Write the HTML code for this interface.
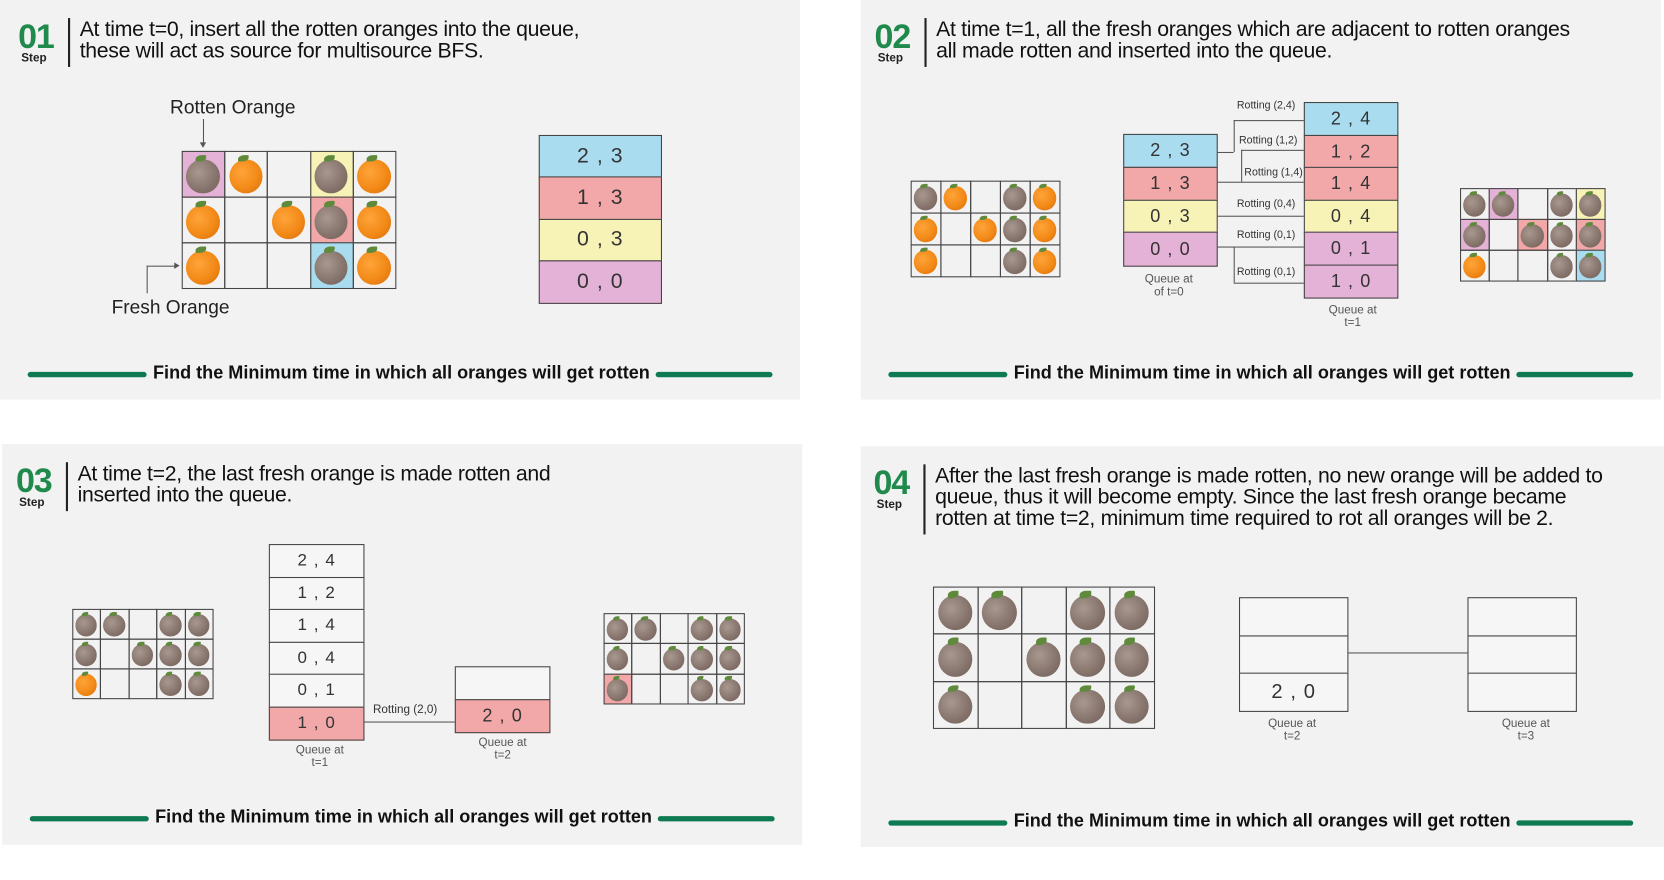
<!DOCTYPE html>
<html><head><meta charset="utf-8">
<style>
html,body{margin:0;padding:0;background:#fff;width:1664px;height:880px;overflow:hidden;font-family:"Liberation Sans",sans-serif;}
#s{position:absolute;left:0;top:0;width:1566px;height:828px;transform:scale(1.0626);transform-origin:0 0;}
.p{position:absolute;background:#f2f2f2;}
.a{position:absolute;}
.num{position:absolute;color:#1f8a4c;font-weight:bold;font-size:32px;line-height:32px;letter-spacing:-1px}
.stp{position:absolute;font-size:11px;font-weight:bold;color:#222}
.vl{position:absolute;width:1.5px;background:#222}
.hd{position:absolute;font-size:20px;line-height:20px;color:#111;white-space:nowrap;letter-spacing:-0.3px}
.gl{position:absolute;height:5px;border-radius:3px;background:#0e7a51}
.ft{position:absolute;font-size:17px;font-weight:bold;color:#111;white-space:nowrap}
.cell{position:absolute;box-sizing:border-box;border:1px solid #444;}
.q{position:absolute;box-sizing:border-box;border:1.5px solid #444;display:flex;align-items:center;justify-content:center;color:#333;letter-spacing:1px}
.lbl{position:absolute;font-size:11px;color:#555;text-align:center;line-height:12px;transform:translateX(-50%);white-space:nowrap}
.rl{position:absolute;font-size:10px;color:#333;white-space:nowrap}
.ln{position:absolute;background:#555}
</style></head><body>
<div id="s">
  <div class="p" style="left:0;top:0;width:753px;height:376px"></div>
  <div class="p" style="left:810px;top:0;width:753px;height:376px"></div>
  <div class="p" style="left:2px;top:418px;width:753px;height:377px"></div>
  <div class="p" style="left:810px;top:420px;width:756px;height:377px"></div>
</div>
<script>
const S=document.getElementById('s');
function mk(cls,css,text,name){
  const e=document.createElement('div');
  e.className=cls;
  e.style.cssText=css;
  if(text!==undefined&&text!==null)e.innerHTML=text;
  
  
  S.appendChild(e);
  return e;
}
const COL={b:'#a9dcef',r:'#f2a8a8',y:'#f7f3b6',p:'#e5b2d7',w:'#f6f6f6','':'transparent'};
function orange(x,y,w,h,kind){
  const body=kind==='f'?'radial-gradient(circle at 38% 38%,#ffa43a,#f28a17 55%,#d96a0a)':'radial-gradient(circle at 38% 38%,#a8988f,#85736b 60%,#6e5d56)';
  mk('a','left:'+x+'px;top:'+y+'px;width:'+w+'px;height:'+h+'px;border-radius:50%;background:'+body,null,kind==='f'?'fresh-orange':'rotten-orange');
  mk('a','left:'+(x+w*0.28)+'px;top:'+(y-h*0.12)+'px;width:'+(w*0.32)+'px;height:'+(h*0.2)+'px;border-radius:60% 10% 60% 10%;background:#5f8a3c',null,'orange-leaf');
}
function grid(name,x,y,cw,ch,states,bgs){
  for(let r=0;r<3;r++)for(let c=0;c<5;c++){
    const cx=x+c*cw,cy=y+r*ch;
    mk('cell','left:'+cx+'px;top:'+cy+'px;width:'+(cw+1)+'px;height:'+(ch+1)+'px;background:'+(COL[bgs[r][c]]||'#f7f7f7'),null,name+'-cell');
    const s=states[r][c];
    if(s){const ow=cw*0.78,oh=ch*0.74;orange(cx+(cw-ow)/2,cy+ch*0.18,ow,oh,s);}
  }
}
function queue(name,x,y,w,rh,items,fs){
  items.forEach((it,i)=>{
    mk('q','left:'+x+'px;top:'+(y+i*rh)+'px;width:'+w+'px;height:'+(rh+1.5)+'px;font-size:'+fs+'px;background:'+COL[it[1]],it[0],name+'-item');
  });
}
function header(ox,oy,n,lines){
  mk('num','left:'+ox+'px;top:'+oy+'px',n,'step-number');
  mk('stp','left:'+(ox+3)+'px;top:'+(oy+31)+'px','Step','step-label');
  mk('vl','left:'+(ox+47)+'px;top:'+(oy-1)+'px;height:'+(lines.length*20+6)+'px',null,'header-divider');
  mk('hd','left:'+(ox+58)+'px;top:'+(oy+0)+'px',lines.join('<br>'),'step-description');
}
function footer(ox,y){
  mk('gl','left:'+(ox+26)+'px;top:'+(y-2)+'px;width:112px',null,'footer-line-left');
  mk('ft','left:'+(ox+144)+'px;top:'+(y-11)+'px','Find the Minimum time in which all oranges will get rotten','footer-title');
  mk('gl','left:'+(ox+617)+'px;top:'+(y-2)+'px;width:110px',null,'footer-line-right');
}
function hl(x1,x2,y,n){mk('ln','left:'+x1+'px;top:'+y+'px;width:'+(x2-x1)+'px;height:1px',null,n||'connector');}
function vl(x,y1,y2,n){mk('ln','left:'+x+'px;top:'+y1+'px;width:1px;height:'+(y2-y1)+'px',null,n||'connector');}

// Step 1
header(17,18,'01',['At time t=0, insert all the rotten oranges into the queue,','these will act as source for multisource BFS.']);
grid('grid-t0',171,142,40.2,43,
 [['r','f','','r','f'],['f','','f','r','f'],['f','','','r','f']],
 [['p','','','y',''],['','','','r',''],['','','','b','']]);
queue('queue-t0',507,127,116,39.3,[['2 , 3','b'],['1 , 3','r'],['0 , 3','y'],['0 , 0','p']],20);
mk('a','left:160px;top:91px;font-size:18px;color:#222','Rotten Orange','rotten-orange-label');
vl(191,112,138,'rotten-arrow');
mk('a','left:188px;top:134px;width:0;height:0;border-left:3px solid transparent;border-right:3px solid transparent;border-top:5px solid #555',null,'arrow-head');
mk('a','left:105px;top:279px;font-size:18px;color:#222','Fresh Orange','fresh-orange-label');
vl(138,250,276,'fresh-arrow');hl(138,166,250,'fresh-arrow');
mk('a','left:164px;top:247px;width:0;height:0;border-top:3px solid transparent;border-bottom:3px solid transparent;border-left:5px solid #555',null,'arrow-head');
footer(0,352);

// Step 2
header(823,18,'02',['At time t=1, all the fresh oranges which are adjacent to rotten oranges','all made rotten and inserted into the queue.']);
grid('grid-before',857,170,28,30,
 [['r','f','','r','f'],['f','','f','r','f'],['f','','','r','f']],
 [['','','','',''],['','','','',''],['','','','','']]);
queue('queue-t0b',1057,126,89,30.8,[['2 , 3','b'],['1 , 3','r'],['0 , 3','y'],['0 , 0','p']],17);
mk('lbl','left:1100px;top:257px','Queue at<br>of t=0','queue-t0-label');
queue('queue-t1',1227,96,89,30.5,[['2 , 4','b'],['1 , 2','r'],['1 , 4','r'],['0 , 4','y'],['0 , 1','p'],['1 , 0','p']],17);
mk('lbl','left:1273px;top:286px','Queue at<br>t=1','queue-t1-label');
hl(1146,1161,143);vl(1161,113,143);hl(1161,1227,113);
mk('rl','left:1164px;top:94px','Rotting (2,4)','rotting-label');
hl(1146,1227,171);vl(1168,141,171);hl(1168,1227,141);
mk('rl','left:1166px;top:127px','Rotting (1,2)','rotting-label');
mk('rl','left:1171px;top:157px','Rotting (1,4)','rotting-label');
hl(1146,1227,203);mk('rl','left:1164px;top:187px','Rotting (0,4)','rotting-label');
hl(1146,1227,232);mk('rl','left:1164px;top:216px','Rotting (0,1)','rotting-label');
vl(1161,232,266);hl(1161,1227,266);mk('rl','left:1164px;top:251px','Rotting (0,1)','rotting-label');
grid('grid-t1',1374,177,27.2,29,
 [['r','r','','r','r'],['r','','r','r','r'],['f','','','r','r']],
 [['','p','','','y'],['p','','r','','r'],['','','','','b']]);
footer(810,352);

// Step 3
header(15,436,'03',['At time t=2, the last fresh orange is made rotten and','inserted into the queue.']);
grid('grid-t1b',68,573,26.4,28,
 [['r','r','','r','r'],['r','','r','r','r'],['f','','','r','r']],
 [['','','','',''],['','','','',''],['','','','','']]);
queue('queue-t1b',253,512,90,30.5,[['2 , 4','w'],['1 , 2','w'],['1 , 4','w'],['0 , 4','w'],['0 , 1','w'],['1 , 0','r']],16);
mk('lbl','left:301px;top:700px','Queue at<br>t=1','queue-t1b-label');
queue('queue-t2',428,627,90,30.5,[['','w'],['2 , 0','r']],17);
mk('lbl','left:473px;top:693px','Queue at<br>t=2','queue-t2-label');
hl(343,428,679);mk('rl','left:351px;top:662px;font-size:11px','Rotting (2,0)','rotting-label');
grid('grid-t2',568,577,26.4,28.3,
 [['r','r','','r','r'],['r','','r','r','r'],['r','','','r','r']],
 [['','','','',''],['','','','',''],['r','','','','']]);
footer(2,770);

// Step 4
header(822,438,'04',['After the last fresh orange is made rotten, no new orange will be added to','queue, thus it will become empty. Since the last fresh orange became','rotten at time t=2, minimum time required to rot all oranges will be 2.']);
grid('grid-final',878,552,41.6,44.3,
 [['r','r','','r','r'],['r','','r','r','r'],['r','','','r','r']],
 [['','','','',''],['','','','',''],['','','','','']]);
queue('queue-t2b',1166,562,103,35.5,[['','w'],['','w'],['2 , 0','w']],19);
mk('lbl','left:1216px;top:675px','Queue at<br>t=2','queue-t2b-label');
queue('queue-t3',1381,562,103,35.5,[['','w'],['','w'],['','w']],19);
mk('lbl','left:1436px;top:675px','Queue at<br>t=3','queue-t3-label');
hl(1269,1381,614);
footer(810,774);
</script>
</body></html>
